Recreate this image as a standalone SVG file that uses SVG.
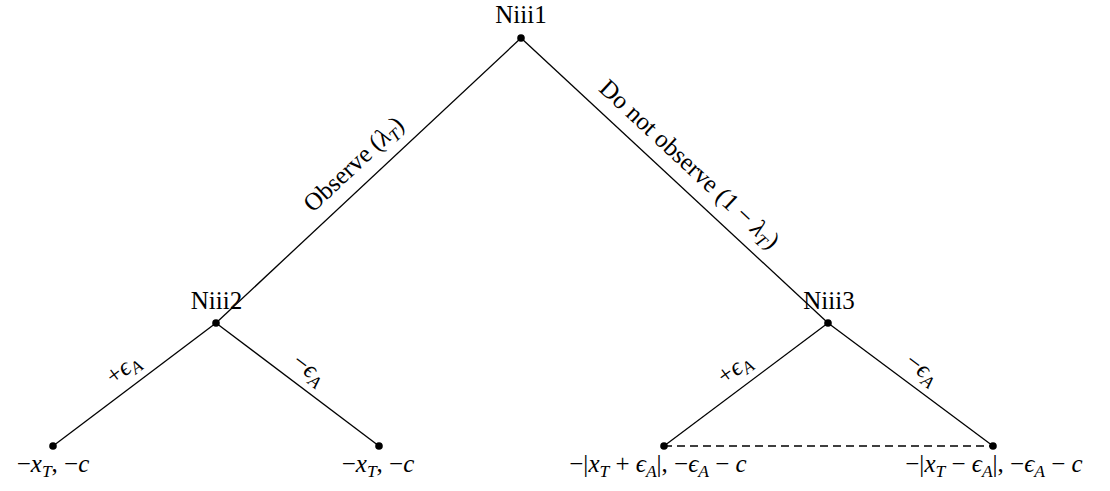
<svg xmlns="http://www.w3.org/2000/svg" width="1110" height="491" viewBox="0 0 1110 491">
<style>
text{font-family:"Liberation Serif","Times New Roman",serif;font-size:25px;fill:#000;}
.c{text-anchor:middle;}
.i{font-style:italic;}
.s{font-size:17.5px;font-style:italic;}
.e{stroke:#000;stroke-width:1.3;fill:none;}
.d{stroke:#000;stroke-width:1.3;fill:none;stroke-dasharray:8 5;}
.dot{fill:#000;}
</style>
<rect width="1110" height="491" fill="#fff"/>
<g id="connectors">
<line class="e" x1="521" y1="38" x2="216" y2="323"/>
<line class="e" x1="521" y1="38" x2="828" y2="323"/>
<line class="e" x1="216" y1="323" x2="53" y2="446"/>
<line class="e" x1="216" y1="323" x2="379" y2="446"/>
<line class="e" x1="828" y1="323" x2="664" y2="446"/>
<line class="e" x1="828" y1="323" x2="993" y2="446"/>
<line class="d" x1="664" y1="446" x2="993" y2="446"/>
<text class="c" transform="translate(359,170) rotate(-43.06)">Observe (<tspan class="i">λ</tspan><tspan class="s" dy="5">T</tspan><tspan dy="-5">)</tspan></text>
<text class="c" transform="translate(684,170) rotate(42.87)">Do not observe (1 − <tspan class="i">λ</tspan><tspan class="s" dy="5">T</tspan><tspan dy="-5">)</tspan></text>
<text class="c" transform="translate(127.3,374.9) rotate(-37.04)">+<tspan class="i">ϵ</tspan><tspan class="s" dy="5">A</tspan></text>
<text class="c" transform="translate(304.7,374.9) rotate(37.04)">−<tspan class="i">ϵ</tspan><tspan class="s" dy="5">A</tspan></text>
<text class="c" transform="translate(738.8,374.9) rotate(-36.87)">+<tspan class="i">ϵ</tspan><tspan class="s" dy="5">A</tspan></text>
<text class="c" transform="translate(917.7,374.9) rotate(36.7)">−<tspan class="i">ϵ</tspan><tspan class="s" dy="5">A</tspan></text>
</g>
<g id="n1"><circle class="dot" cx="521" cy="38" r="3.8"/><text class="c" x="521" y="22.5">Niii1</text></g>
<g id="n2"><circle class="dot" cx="216" cy="323" r="3.8"/><text class="c" x="216.5" y="308.5">Niii2</text></g>
<g id="n3"><circle class="dot" cx="828" cy="323" r="3.8"/><text class="c" x="829" y="308.5">Niii3</text></g>
<g id="l1"><circle class="dot" cx="53" cy="446" r="3.8"/><text class="c" x="53" y="472">−<tspan class="i">x</tspan><tspan class="s" dy="5">T</tspan><tspan dy="-5">, −</tspan><tspan class="i">c</tspan></text></g>
<g id="l2"><circle class="dot" cx="379" cy="446" r="3.8"/><text class="c" x="378" y="472">−<tspan class="i">x</tspan><tspan class="s" dy="5">T</tspan><tspan dy="-5">, −</tspan><tspan class="i">c</tspan></text></g>
<g id="l3"><circle class="dot" cx="664" cy="446" r="3.8"/><text class="c" x="658" y="472">−|<tspan class="i">x</tspan><tspan class="s" dy="5">T</tspan><tspan dy="-5"> + </tspan><tspan class="i">ϵ</tspan><tspan class="s" dy="5">A</tspan><tspan dy="-5">|, −</tspan><tspan class="i">ϵ</tspan><tspan class="s" dy="5">A</tspan><tspan dy="-5"> − </tspan><tspan class="i">c</tspan></text></g>
<g id="l4"><circle class="dot" cx="993" cy="446" r="3.8"/><text class="c" x="994" y="472">−|<tspan class="i">x</tspan><tspan class="s" dy="5">T</tspan><tspan dy="-5"> − </tspan><tspan class="i">ϵ</tspan><tspan class="s" dy="5">A</tspan><tspan dy="-5">|, −</tspan><tspan class="i">ϵ</tspan><tspan class="s" dy="5">A</tspan><tspan dy="-5"> − </tspan><tspan class="i">c</tspan></text></g>
</svg>
